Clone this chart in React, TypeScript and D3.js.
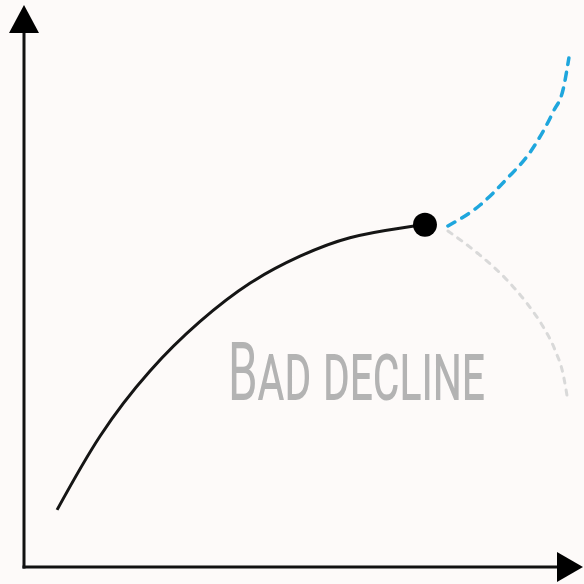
import * as d3 from 'd3'

// data in abstract units (0..10 on both axes)
const pastX = [0.59, 1.36, 2.25, 3.14, 4.04, 4.93, 5.82, 6.71, 7.16]
const pastY = [1.02, 2.34, 3.5, 4.38, 5.07, 5.55, 5.88, 6.05, 6.11]

const upX = [7.57, 8.14, 8.62, 9.04, 9.45, 9.63, 9.73]
const upY = [6.09, 6.46, 6.93, 7.41, 8.13, 8.54, 9.09]

const downX = [7.57, 8.14, 8.62, 8.98, 9.27, 9.48, 9.63, 9.71]
const downY = [6.0, 5.57, 5.13, 4.71, 4.29, 3.88, 3.43, 2.98]

const label = 'Bad decline'

const W = 584
const H = 584

export default function App() {
  const x = d3.scaleLinear().domain([0, 10]).range([24, 584])
  const y = d3.scaleLinear().domain([0, 10]).range([567, 7])

  const line = d3.line<[number, number]>()
    .x(d => x(d[0]))
    .y(d => y(d[1]))
    .curve(d3.curveMonotoneX)

  // the history curve looks hand-smoothed, natural spline fits it better
  const smooth = d3.line<[number, number]>()
    .x(d => x(d[0]))
    .y(d => y(d[1]))
    .curve(d3.curveNatural)

  const past = pastX.map((v, i) => [v, pastY[i]] as [number, number])
  const up = upX.map((v, i) => [v, upY[i]] as [number, number])
  const down = downX.map((v, i) => [v, downY[i]] as [number, number])
  const last = past[past.length - 1]

  const x0 = x(0)
  const y0 = y(0)

  return (
    <svg width={W} height={H} style={{ position: 'absolute', left: 0, top: 0, background: '#fdfaf9' }}>
      <rect width={W} height={H} fill="#fdfaf9" />
      {/* axes */}
      <line x1={x0} x2={x0} y1={y0 + 1.5} y2={30} stroke="#111" strokeWidth={3} />
      <line x1={x0 - 1.5} x2={560} y1={y0} y2={y0} stroke="#111" strokeWidth={3} />
      <path d={`M${x0},5 L${x0 + 15},33 L${x0 - 15},33 Z`} fill="#000" />
      <path d={`M583,${y0} L557,${y0 + 15} L557,${y0 - 15} Z`} fill="#000" />

      {/* scenarios */}
      <path d={line(down) ?? ''} fill="none" stroke="#d9d9d9" strokeWidth={3}
        strokeDasharray="5 7" strokeLinecap="round" />
      <path d={line(up) ?? ''} fill="none" stroke="#1fa6dd" strokeWidth={3.5}
        strokeDasharray="8 8" strokeLinecap="round" />

      <path d={smooth(past) ?? ''} fill="none" stroke="#151515" strokeWidth={3} />
      <circle cx={x(last[0])} cy={y(last[1])} r={12} fill="#000" />

      <text x={228} y={400} fill="#b3b3b3" fontFamily="Roboto, 'DejaVu Sans'" fontWeight={400}
        fontSize={81} fontVariant="small-caps"
        textLength={257} lengthAdjust="spacingAndGlyphs">
        {label}
      </text>
    </svg>
  )
}
